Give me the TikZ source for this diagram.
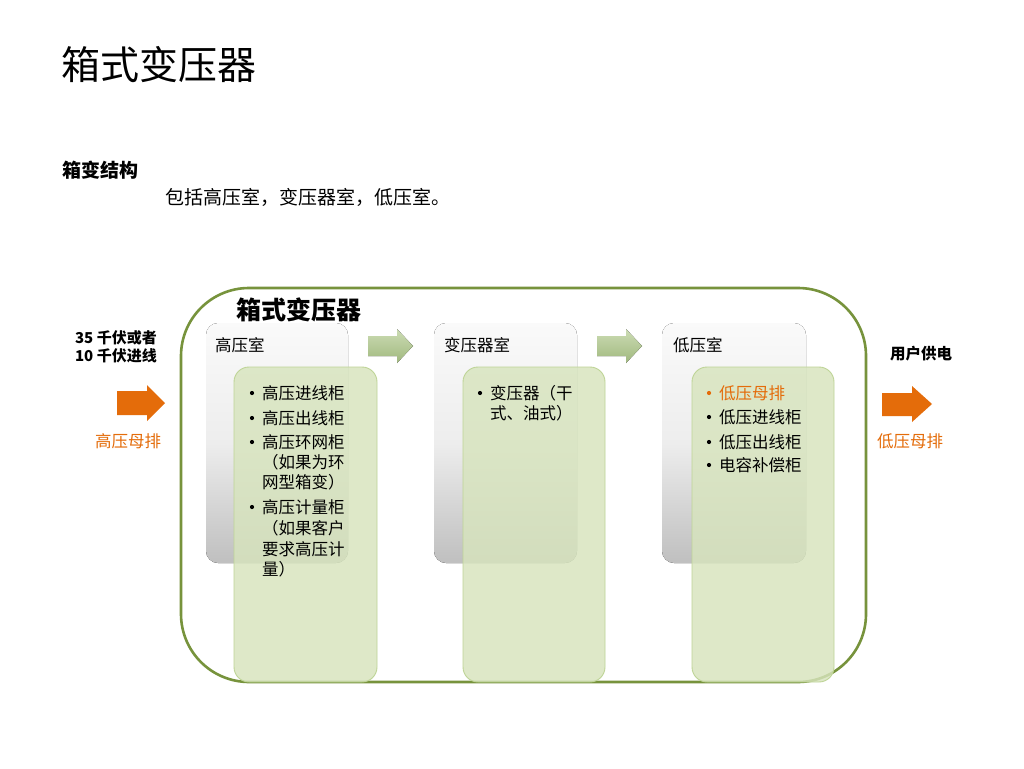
\documentclass[tikz,border=0pt]{standalone}
\usepackage{fontspec}
\setmainfont{Noto Sans CJK SC}
\usetikzlibrary{shapes.arrows}
\newcommand{\fsz}[1]{\fontsize{#1pt}{#1pt}\selectfont}
\definecolor{framegreen}{RGB}{119,147,60}
\definecolor{boxgreen}{RGB}{215,228,189}
\definecolor{boxgreenline}{RGB}{190,212,150}
\definecolor{orangec}{RGB}{228,108,10}
\definecolor{arrowgA}{RGB}{204,220,180}
\definecolor{arrowgB}{RGB}{160,184,126}
\tikzset{
  txt/.style={inner sep=0pt, anchor=west, font=\fsz{16.5}},
  graybox/.style={rounded corners=12pt, top color=black!2, bottom color=black!25, middle color=black!7, draw=none},
  greenbox/.style={rounded corners=15pt, fill=boxgreen, fill opacity=0.82, draw=boxgreenline, line width=0.9pt},
  bul/.style={circle, fill=black, inner sep=0pt, minimum size=4.2pt},
  orangearrow/.style={fill=orangec, draw=none},
  greenarrow/.style={top color=arrowgA, bottom color=arrowgB, draw=none},
}
\begin{document}
\begin{tikzpicture}[x=1pt,y=-1pt]
\useasboundingbox (0,0) rectangle (1024,768);
\fill[white] (0,0) rectangle (1024,768);

% headings
\node[inner sep=0pt, anchor=west, font=\fsz{39}] (title) at (61,65) {箱式变压器};
\node[inner sep=0pt, anchor=west, font=\fsz{19}\bfseries] (sub) at (62,170) {箱变结构};
\node[inner sep=0pt, anchor=west, font=\fsz{19}] (desc) at (165,197) {包括高压室，变压器室，低压室。};

% outer frame
\draw[framegreen, line width=2.6pt, rounded corners=68pt] (181,288) rectangle (866,682);
\node[inner sep=0pt, anchor=west, font=\fsz{25}\bfseries] (frametitle) at (236,310) {箱式变压器};

% gray boxes
\fill[graybox] (206,323) rectangle (348,563);
\fill[graybox] (434,323) rectangle (577,563);
\fill[graybox] (662,323) rectangle (806,563);
\node[txt] (hv) at (215,345) {高压室};
\node[txt] (tr) at (444,345) {变压器室};
\node[txt] (lv) at (673,345) {低压室};

% green arrows
\fill[greenarrow] (368,336) -- (397,336) -- (397,329) -- (413,346) -- (397,363) -- (397,356) -- (368,356) -- cycle;
\fill[greenarrow] (597,336) -- (626,336) -- (626,329) -- (642,346) -- (626,363) -- (626,356) -- (597,356) -- cycle;

% green boxes
\draw[greenbox] (234,367) rectangle (377,682);
\draw[greenbox] (463,367) rectangle (605,682);
\draw[greenbox] (692,367) rectangle (834,682);

% box 1 text
\node[bul] (b1) at (252,393) {};
\node[txt] (t1) at (262,393) {高压进线柜};
\node[bul] (b2) at (252,418) {};
\node[txt] (t2) at (262,418) {高压出线柜};
\node[bul] (b3) at (252,442) {};
\node[txt] (t3) at (262,442) {高压环网柜};
\node[txt] (t3b) at (262,462) {（如果为环};
\node[txt] (t3c) at (262,482) {网型箱变）};
\node[bul] (b4) at (252,507) {};
\node[txt] (t4) at (262,507) {高压计量柜};
\node[txt] (t4b) at (262,528) {（如果客户};
\node[txt] (t4c) at (262,549) {要求高压计};
\node[txt] (t4d) at (262,569) {量）};

% box 2 text
\node[bul] (c1) at (480,393) {};
\node[txt] (u1) at (490,393) {变压器（干};
\node[txt] (u1b) at (490,413) {式、油式）};

% box 3 text
\node[bul, fill=orangec] (d1) at (709,393) {};
\node[txt, text=orangec] (v1) at (719,393) {低压母排};
\node[bul] (d2) at (709,417) {};
\node[txt] (v2) at (719,417) {低压进线柜};
\node[bul] (d3) at (709,442) {};
\node[txt] (v3) at (719,442) {低压出线柜};
\node[bul] (d4) at (709,465) {};
\node[txt] (v4) at (719,465) {电容补偿柜};

% left side
\node[inner sep=0pt, anchor=east, font=\fsz{15}\bfseries, align=right] (in1) at (157,338) {35 千伏或者};
\node[inner sep=0pt, anchor=east, font=\fsz{15}\bfseries, align=right] (in2) at (157,356) {10 千伏进线};
\fill[orangearrow] (117,391) -- (147,391) -- (147,385) -- (165,403) -- (147,421) -- (147,415) -- (117,415) -- cycle;
\node[txt, text=orangec] (hvbus) at (95,441) {高压母排};

% right side
\node[inner sep=0pt, anchor=west, font=\fsz{15.5}\bfseries] (user) at (890,354) {用户供电};
\fill[orangearrow] (882,393) -- (912,393) -- (912,386) -- (932,404) -- (912,422) -- (912,416) -- (882,416) -- cycle;
\node[txt, text=orangec] (lvbus) at (877,441) {低压母排};
\end{tikzpicture}
\end{document}
